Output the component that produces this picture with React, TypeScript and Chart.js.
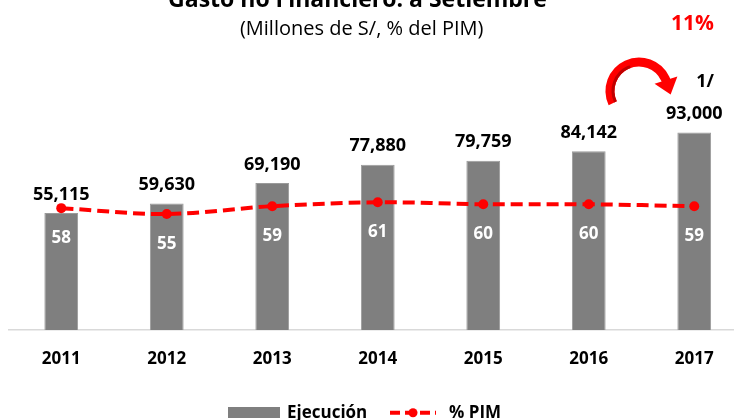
import React, { useEffect, useRef } from "react";
import { Chart, registerables } from "chart.js";

Chart.register(...registerables);

const years = ["2011", "2012", "2013", "2014", "2015", "2016", "2017"];
const ejecucion = [55115, 59630, 69190, 77880, 79759, 84142, 93000];
const pctPim = [58, 55, 59, 61, 60, 60, 59];
const titleText = "Gasto no Financiero: a Setiembre";
const subtitleText = "(Millones de S/, % del PIM)";
const growthText = "11%";
const noteText = "1/";
const legendLabels = ["Ejecución", "% PIM"];

const FONT = "'Open Sans', Lato, sans-serif";
const RED = "#ff0000";
const GRAY = "#7f7f7f";

const overlay = {
  id: "overlay",
  afterDraw(chart: any) {
    const ctx = chart.ctx as CanvasRenderingContext2D;
    ctx.save();
    // bar value labels
    const barMeta = chart.getDatasetMeta(0);
    ctx.font = `bold 18px ${FONT}`;
    ctx.fillStyle = "#000";
    ctx.textAlign = "center";
    ctx.textBaseline = "middle";
    barMeta.data.forEach((el: any, i: number) => {
      ctx.fillText(ejecucion[i].toLocaleString("en-US"), el.x, el.y - 18.5);
    });
    // percent labels
    const lineMeta = chart.getDatasetMeta(1);
    ctx.fillStyle = "#fff";
    ctx.font = `bold 17px ${FONT}`;
    lineMeta.data.forEach((el: any, i: number) => {
      ctx.fillText(String(pctPim[i]), el.x, el.y + 30);
    });
    // title
    ctx.fillStyle = "#000";
    ctx.textBaseline = "alphabetic";
    ctx.font = `bold 23px ${FONT}`;
    ctx.fillText(titleText, 357.5, 7);
    ctx.font = `20px ${FONT}`;
    ctx.fillText(subtitleText, 361.7, 35);
    // 11%
    ctx.fillStyle = RED;
    ctx.font = `bold 21px ${FONT}`;
    ctx.fillText(growthText, 692.5, 30);
    // 1/
    ctx.fillStyle = "#000";
    ctx.font = `bold 18px ${FONT}`;
    ctx.fillText(noteText, 705, 87);
    // curved arrow
    const cx = 639, cy = 91, r = 29;
    const a0 = (155 * Math.PI) / 180;
    const a1 = (342 * Math.PI) / 180;
    ctx.lineCap = "butt";
    ctx.strokeStyle = RED;
    ctx.lineWidth = 9;
    ctx.beginPath();
    ctx.arc(cx, cy, r, a0, a1, false);
    ctx.stroke();
    ctx.strokeStyle = "#c00000";
    ctx.lineWidth = 3;
    ctx.beginPath();
    ctx.arc(cx, cy, r - 3, a0, (250 * Math.PI) / 180, false);
    ctx.stroke();
    const ex = cx + r * Math.cos(a1);
    const ey = cy + r * Math.sin(a1);
    const tx = Math.cos(a1 + Math.PI / 2);
    const ty = Math.sin(a1 + Math.PI / 2);
    const nx = Math.cos(a1);
    const ny = Math.sin(a1);
    ctx.fillStyle = RED;
    ctx.beginPath();
    ctx.moveTo(ex - tx * 2 + nx * 12, ey - ty * 2 + ny * 12);
    ctx.lineTo(ex - tx * 2 - nx * 12, ey - ty * 2 - ny * 12);
    ctx.lineTo(ex + tx * 13, ey + ty * 13);
    ctx.closePath();
    ctx.fill();
    // legend
    ctx.fillStyle = GRAY;
    ctx.fillRect(228, 407, 52, 11);
    ctx.fillStyle = "#000";
    ctx.textAlign = "left";
    ctx.textBaseline = "middle";
    ctx.font = `bold 17px ${FONT}`;
    ctx.fillText(legendLabels[0], 287, 413);
    ctx.strokeStyle = RED;
    ctx.lineWidth = 4;
    ctx.setLineDash([10, 5]);
    ctx.beginPath();
    ctx.moveTo(390, 412.7);
    ctx.lineTo(436, 412.7);
    ctx.stroke();
    ctx.setLineDash([]);
    ctx.fillStyle = RED;
    ctx.beginPath();
    ctx.arc(413, 412.7, 4.5, 0, Math.PI * 2);
    ctx.fill();
    ctx.fillStyle = "#000";
    ctx.fillText(legendLabels[1], 449, 413);
    ctx.restore();
  },
};

export default function App() {
  const ref = useRef<HTMLCanvasElement>(null);
  useEffect(() => {
    document.body.style.margin = "0";
    const chart = new Chart(ref.current!, {
      type: "bar",
      data: {
        labels: years,
        datasets: [
          {
            type: "bar",
            label: legendLabels[0],
            data: ejecucion,
            backgroundColor: GRAY,
            borderColor: "#9a9a9a",
            borderWidth: 1,
            barPercentage: 0.32,
            categoryPercentage: 1,
            yAxisID: "y",
            order: 1,
          },
          {
            type: "line",
            label: legendLabels[1],
            data: pctPim,
            borderColor: RED,
            backgroundColor: RED,
            borderWidth: 4,
            borderDash: [12, 6],
            pointRadius: 5,
            pointBackgroundColor: RED,
            pointBorderWidth: 0,
            tension: 0.35,
            yAxisID: "y2",
            order: 0,
          } as any,
        ],
      },
      options: {
        responsive: false,
        animation: false,
        layout: { padding: { top: 117.7, left: 8.5, right: 13, bottom: 0 } },
        plugins: { legend: { display: false }, tooltip: { enabled: false } },
        scales: {
          x: {
            grid: { display: false, drawTicks: false },
            border: { display: true, color: "#d9d9d9", width: 1.5 },
            ticks: {
              color: "#000",
              font: { family: FONT, size: 17, weight: "bold" },
              padding: 19,
              maxRotation: 0,
            },
            afterFit(scale: any) {
              scale.height = 90;
            },
          },
          y: { display: false, min: 0, max: 100000 },
          y2: { display: false, min: -4.5, max: 104.4 },
        },
      },
      plugins: [overlay],
    });
    return () => chart.destroy();
  }, []);
  return (
    <div style={{ width: 734, height: 420, overflow: "hidden", background: "#fff" }}>
      <canvas ref={ref} width={760} height={420} style={{ display: "block" }} />
    </div>
  );
}
